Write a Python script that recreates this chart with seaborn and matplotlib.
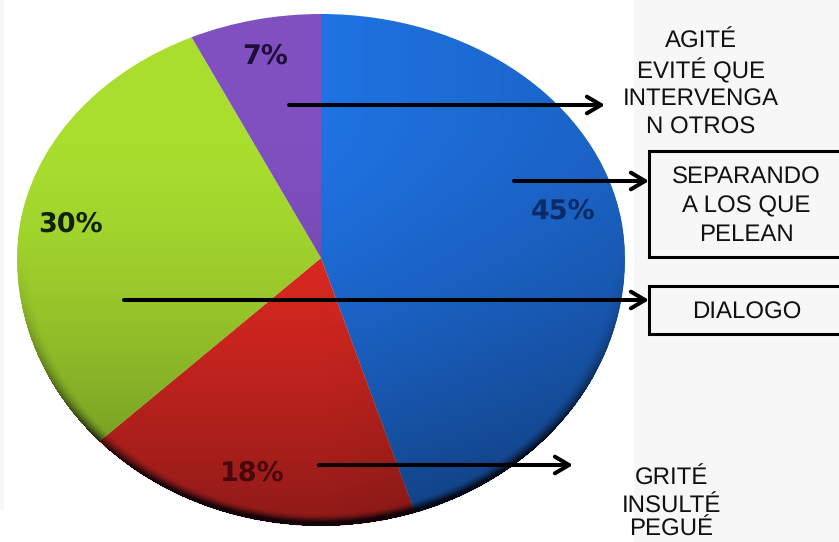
import numpy as np
import matplotlib
matplotlib.use("Agg")
import matplotlib.pyplot as plt
import seaborn as sns
from matplotlib.patches import Rectangle
from matplotlib.transforms import Transform

values = [45, 18, 30, 7]
colors = ["#1F72E2", "#EA2B22", "#A9DE2F", "#8050C0"]
pct_x = [563, 252, 70, 265]
pct_y = [211, 473, 224, 56]
pct_colors = ["#0B2A66", "#47070C", "#12200A", "#1E0E3A"]
text_lines = [
    ("AGITÉ", 701, 42), ("EVITÉ QUE", 701, 71), ("INTERVENGA", 701, 100), ("N OTROS", 701, 128),
    ("SEPARANDO", 746, 178), ("A LOS QUE", 746, 206), ("PELEAN", 746, 235),
    ("DIALOGO", 747, 313),
    ("GRITÉ", 671, 479), ("INSULTÉ", 671, 507), ("PEGUÉ", 671, 530),
]
arrow_start = [(289, 105), (514, 181), (124, 300), (319, 465)]
arrow_end = [(605, 105), (649, 181), (649, 300), (573, 465)]

sns.set_theme(style="white")
plt.rcParams["font.family"] = ["Liberation Sans", "DejaVu Sans"]
plt.rcParams["text.hinting"] = "none"
plt.rcParams["text.hinting_factor"] = 1

CX, CY, RX, RT, RB = 321, 258, 304, 244, 268


class TiltedPie(Transform):
    input_dims = output_dims = 2

    def transform_non_affine(self, xy):
        xy = np.asarray(xy, float)
        x, y = xy[:, 0], xy[:, 1]
        return np.column_stack([CX + RX * x, CY - y * np.where(y > 0, RT, RB)])


fig = plt.figure(figsize=(8.39, 5.42), dpi=100, facecolor="#F7F7F7")
ax = fig.add_axes([0, 0, 1, 1])
wedges, _ = ax.pie(values, colors=sns.color_palette(colors), startangle=90, counterclock=False,
                   wedgeprops={"linewidth": 0})
ax.set_aspect("auto")
ax.set_xlim(0, 839)
ax.set_ylim(542, 0)
ax.axis("off")
ax.add_patch(Rectangle((4, 0), 630, 510, fc="white", ec="none", zorder=0))
ax.add_patch(Rectangle((0, 510), 634, 32, fc="white", ec="none", zorder=0))

tilt = TiltedPie() + ax.transData
for w in wedges:
    w.set_transform(tilt)
    w.set_zorder(1)

# shading: darker towards the bottom and right, dark rim along the lower edge
px, py = np.meshgrid(np.arange(839) + .5, np.arange(542) + .5)
ux = (px - CX) / RX
uy = (py - CY) / np.where(py < CY, RT, RB)
rr = np.hypot(ux, uy)
shade = np.clip(0.40 * np.clip((py - 120) / 406, 0, 1) ** 1.6 + 0.14 * np.clip(ux, 0, 1), 0, 1)
rim = np.clip((rr - 0.955) / 0.045, 0, 1) ** 1.5 * np.clip(uy + 0.05, 0, 1) ** 1.5 * 0.9
alpha = np.clip(shade + rim, 0, 0.92)
alpha[rr > 1.0] = 0
rgba = np.zeros((542, 839, 4))
rgba[..., 3] = alpha
rgba[..., 2] = 0.03
ax.imshow(rgba, extent=(0, 839, 542, 0), aspect="auto", zorder=2, interpolation="bilinear")
ax.set_xlim(0, 839)
ax.set_ylim(542, 0)

for v, x, y, c in zip(values, pct_x, pct_y, pct_colors):
    ax.text(x, y, f"{v}%", ha="center", va="center", fontsize=19.5, fontweight="bold",
            family="DejaVu Sans", color=c, zorder=3)

ax.add_patch(Rectangle((649, 151), 195, 106, fc="#F7F7F7", ec="black", lw=2.2, zorder=3))
ax.add_patch(Rectangle((649, 286), 195, 48, fc="#F7F7F7", ec="black", lw=2.2, zorder=3))

for s, e in zip(arrow_start, arrow_end):
    ax.annotate("", xy=e, xytext=s, zorder=4,
                arrowprops=dict(arrowstyle="->,head_length=0.85,head_width=0.5", lw=2.9, color="black",
                                shrinkA=0, shrinkB=0))

for s, x, y in text_lines:
    ax.text(x, y, s, ha="center", va="center", fontsize=17, color="#111111", zorder=5)

fig.savefig("out.png", dpi=100, facecolor=fig.get_facecolor())
